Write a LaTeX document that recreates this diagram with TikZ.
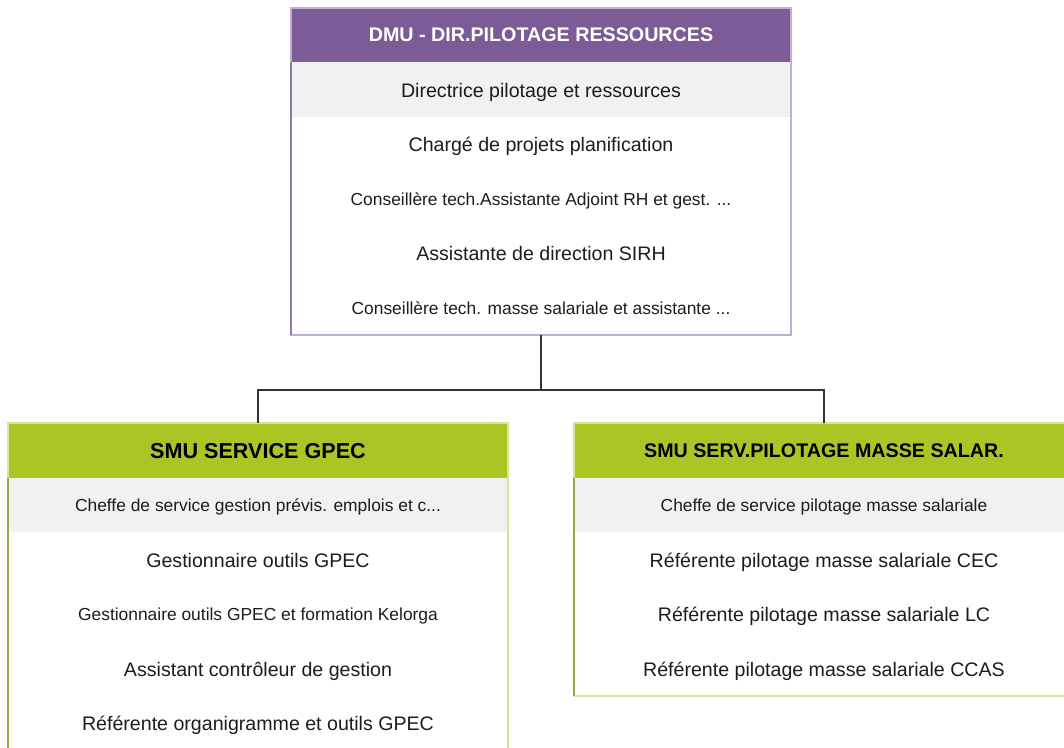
\documentclass[tikz,border=0pt]{standalone}
\usepackage{fontspec}
\setmainfont{Liberation Sans}
\usepackage{tikz}
\usetikzlibrary{positioning, calc}
\definecolor{dmupurple}{RGB}{123, 92, 150}
\definecolor{dmuborder}{RGB}{192, 175, 212}
\definecolor{dmuedge}{RGB}{145, 120, 170}
\definecolor{smugreen}{RGB}{170, 198, 36}
\definecolor{smuborder}{RGB}{214, 228, 156}
\definecolor{smuedge}{RGB}{143, 170, 78}
\definecolor{rowgray}{RGB}{241, 241, 241}
\definecolor{rowtext}{RGB}{28, 28, 28}

\tikzset{
  unithead/.style={minimum width=500pt, minimum height=54pt, inner sep=0pt, text height=14pt, text depth=0pt, font=\bfseries\fontsize{19.7}{22}\selectfont},
  unitrow/.style={minimum width=500pt, minimum height=54.5pt, inner sep=0pt, text height=15pt, text depth=0pt, text=rowtext, font=\fontsize{19.6}{22}\selectfont},
  smallrow/.style={unitrow, text height=13pt, font=\fontsize{17.4}{20}\selectfont},
  link/.style={draw=black!80, line width=1.3pt}
}

\begin{document}
\begin{tikzpicture}[x=1pt, y=-1pt]
  \useasboundingbox (0,0) rectangle (1064,747);

  % Direction
  \node[unithead, fill=dmupurple, text=white, text height=12.5pt] (dmu) at (541,35) {DMU - DIR.PILOTAGE RESSOURCES};
  \node[unitrow, fill=rowgray] (dmu1) at (541,89.5) {Directrice pilotage et ressources};
  \node[unitrow] (dmu2) at (541,144) {Chargé de projets planification};
  \node[smallrow] (dmu3) at (541,198.5) {Conseillère tech.Assistante Adjoint RH et gest. ...};
  \node[unitrow] (dmu4) at (541,253) {Assistante de direction SIRH};
  \node[smallrow] (dmu5) at (541,307.5) {Conseillère tech. masse salariale et assistante ...};
  \draw[dmuborder, line width=2pt] (dmu.north west) rectangle (dmu5.south east);
  \draw[dmuedge, line width=2pt] (dmu.south west) -- (dmu5.south west);

  % Service GPEC
  \node[unithead, fill=smugreen, text height=15.5pt, font=\bfseries\fontsize{21.6}{24}\selectfont] (gpec) at (258,450.5) {SMU SERVICE GPEC};
  \node[smallrow, fill=rowgray] (gpec1) at (258,505) {Cheffe de service gestion prévis. emplois et c...};
  \node[unitrow] (gpec2) at (258,559.5) {Gestionnaire outils GPEC};
  \node[smallrow] (gpec3) at (258,614) {Gestionnaire outils GPEC et formation Kelorga};
  \node[unitrow] (gpec4) at (258,668.5) {Assistant contrôleur de gestion};
  \node[unitrow] (gpec5) at (258,723) {Référente organigramme et outils GPEC};
  \draw[smuborder, line width=2pt] (gpec.north west) rectangle (gpec5.south east);
  \draw[smuedge, line width=2pt] (gpec.south west) -- (gpec5.south west);

  % Service pilotage masse salariale
  \node[unithead, fill=smugreen] (masse) at (824,450.5) {SMU SERV.PILOTAGE MASSE SALAR.};
  \node[smallrow, fill=rowgray] (masse1) at (824,505) {Cheffe de service pilotage masse salariale};
  \node[unitrow] (masse2) at (824,559.5) {Référente pilotage masse salariale CEC};
  \node[unitrow] (masse3) at (824,614) {Référente pilotage masse salariale LC};
  \node[unitrow] (masse4) at (824,668.5) {Référente pilotage masse salariale CCAS};
  \draw[smuborder, line width=2pt] (masse.north west) rectangle (masse4.south east);
  \draw[smuedge, line width=2pt] (masse.south west) -- (masse4.south west);

  % Links
  \coordinate (split) at ($(dmu5.south)+(0,55)$);
  \draw[link] (dmu5.south) -- (split) -| (gpec.north);
  \draw[link] (split) -| (masse.north);
\end{tikzpicture}
\end{document}
